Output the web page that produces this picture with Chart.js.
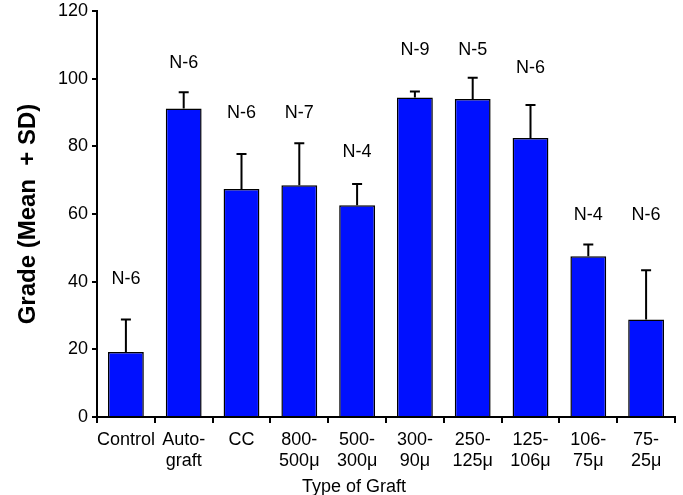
<!DOCTYPE html>
<html lang="en">
<head>
    <meta charset="utf-8"/>
    <script src="https://cdn.jsdelivr.net/npm/chart.js@4.4.1/dist/chart.umd.min.js"></script>
    <style>
        html, body { margin: 0; padding: 0; background: #fff; }
        #wrap { width: 683px; height: 495px; }
    </style>
</head>
<body>
    <div id="wrap"><canvas id="chart"></canvas></div>
    <script>
        // values
        const categories = [["Control"], ["Auto-", "graft"], ["CC"], ["800-", "500\u03bc"], ["500-", "300\u03bc"],
            ["300-", "90\u03bc"], ["250-", "125\u03bc"], ["125-", "106\u03bc"], ["106-", "75\u03bc"], ["75-", "25\u03bc"]];
        const means = [19.2, 91.2, 67.4, 68.5, 62.6, 94.4, 94.0, 82.5, 47.5, 28.8];
        const sds = [9.6, 4.8, 10.3, 12.4, 6.3, 1.8, 6.3, 9.7, 3.5, 14.6];
        const nLabels = ["N-6", "N-6", "N-6", "N-7", "N-4", "N-9", "N-5", "N-6", "N-4", "N-6"];
        const nLabelAt = [40.7, 104.6, 89.8, 89.8, 78.3, 108.4, 108.4, 103, 59.7, 59.7];
        const yTicks = [0, 20, 40, 60, 80, 100, 120];

        const FONT = "'Liberation Sans', Arial, sans-serif";

        const errorBars = {
            id: "errorBars",
            afterDatasetsDraw(chart) {
                const ctx = chart.ctx;
                const x = chart.scales.x, y = chart.scales.y;
                const meta = chart.getDatasetMeta(0);
                ctx.save();
                ctx.strokeStyle = "#000";
                ctx.lineWidth = 2;
                ctx.fillStyle = "#000";
                ctx.font = "18px " + FONT;
                ctx.textAlign = "center";
                ctx.textBaseline = "middle";
                means.forEach(function(m, i) {
                    const cx = meta.data[i].x;
                    const y0 = y.getPixelForValue(m);
                    const y1 = y.getPixelForValue(m + sds[i]);
                    ctx.beginPath();
                    ctx.moveTo(cx, y0);
                    ctx.lineTo(cx, y1);
                    ctx.moveTo(cx - 5, y1);
                    ctx.lineTo(cx + 5, y1);
                    ctx.stroke();
                    ctx.fillText(nLabels[i], cx, y.getPixelForValue(nLabelAt[i]));
                });
                // x axis title, sits a bit left of centre in the original
                ctx.fillText("Type of Graft", x.left + 257, 487);
                ctx.restore();
            }
        };

        new Chart(document.getElementById("chart"), {
            type: "bar",
            data: {
                labels: categories,
                datasets: [{
                    data: means,
                    backgroundColor: "#0010ff",
                    borderColor: "#000",
                    borderWidth: 1.5,
                    borderSkipped: "start",
                    barPercentage: 0.62,
                    categoryPercentage: 1.0
                }]
            },
            options: {
                responsive: true,
                maintainAspectRatio: false,
                animation: false,
                layout: { padding: { top: 11, right: 8, bottom: 0, left: 0 } },
                plugins: {
                    legend: { display: false },
                    tooltip: { enabled: false }
                },
                scales: {
                    x: {
                        offset: true,
                        grid: { display: true, drawOnChartArea: false, drawTicks: true, tickLength: 6, color: "#000", lineWidth: 2 },
                        border: { display: true, color: "#000", width: 2 },
                        ticks: { color: "#000", font: { family: FONT, size: 18 }, padding: 6, maxRotation: 0, autoSkip: false },
                        afterFit(scale) { scale.height = 78; }
                    },
                    y: {
                        min: 0,
                        max: 120,
                        afterBuildTicks(scale) { scale.ticks = yTicks.map(v => ({ value: v })); },
                        grid: { display: true, drawOnChartArea: false, drawTicks: true, tickLength: 5, color: "#000", lineWidth: 2 },
                        border: { display: true, color: "#000", width: 2 },
                        ticks: { color: "#000", font: { family: FONT, size: 18 }, padding: 4 },
                        title: {
                            display: true,
                            text: "Grade (Mean  + SD)",
                            color: "#000",
                            font: { family: FONT, size: 24, weight: "bold" },
                            padding: { top: 14, bottom: 0 }
                        },
                        afterFit(scale) {
                            scale.width = 97;
                            scale.paddingTop = 0;
                            scale.paddingBottom = 0;
                        }
                    }
                }
            },
            plugins: [errorBars]
        });
    </script>
</body>
</html>
